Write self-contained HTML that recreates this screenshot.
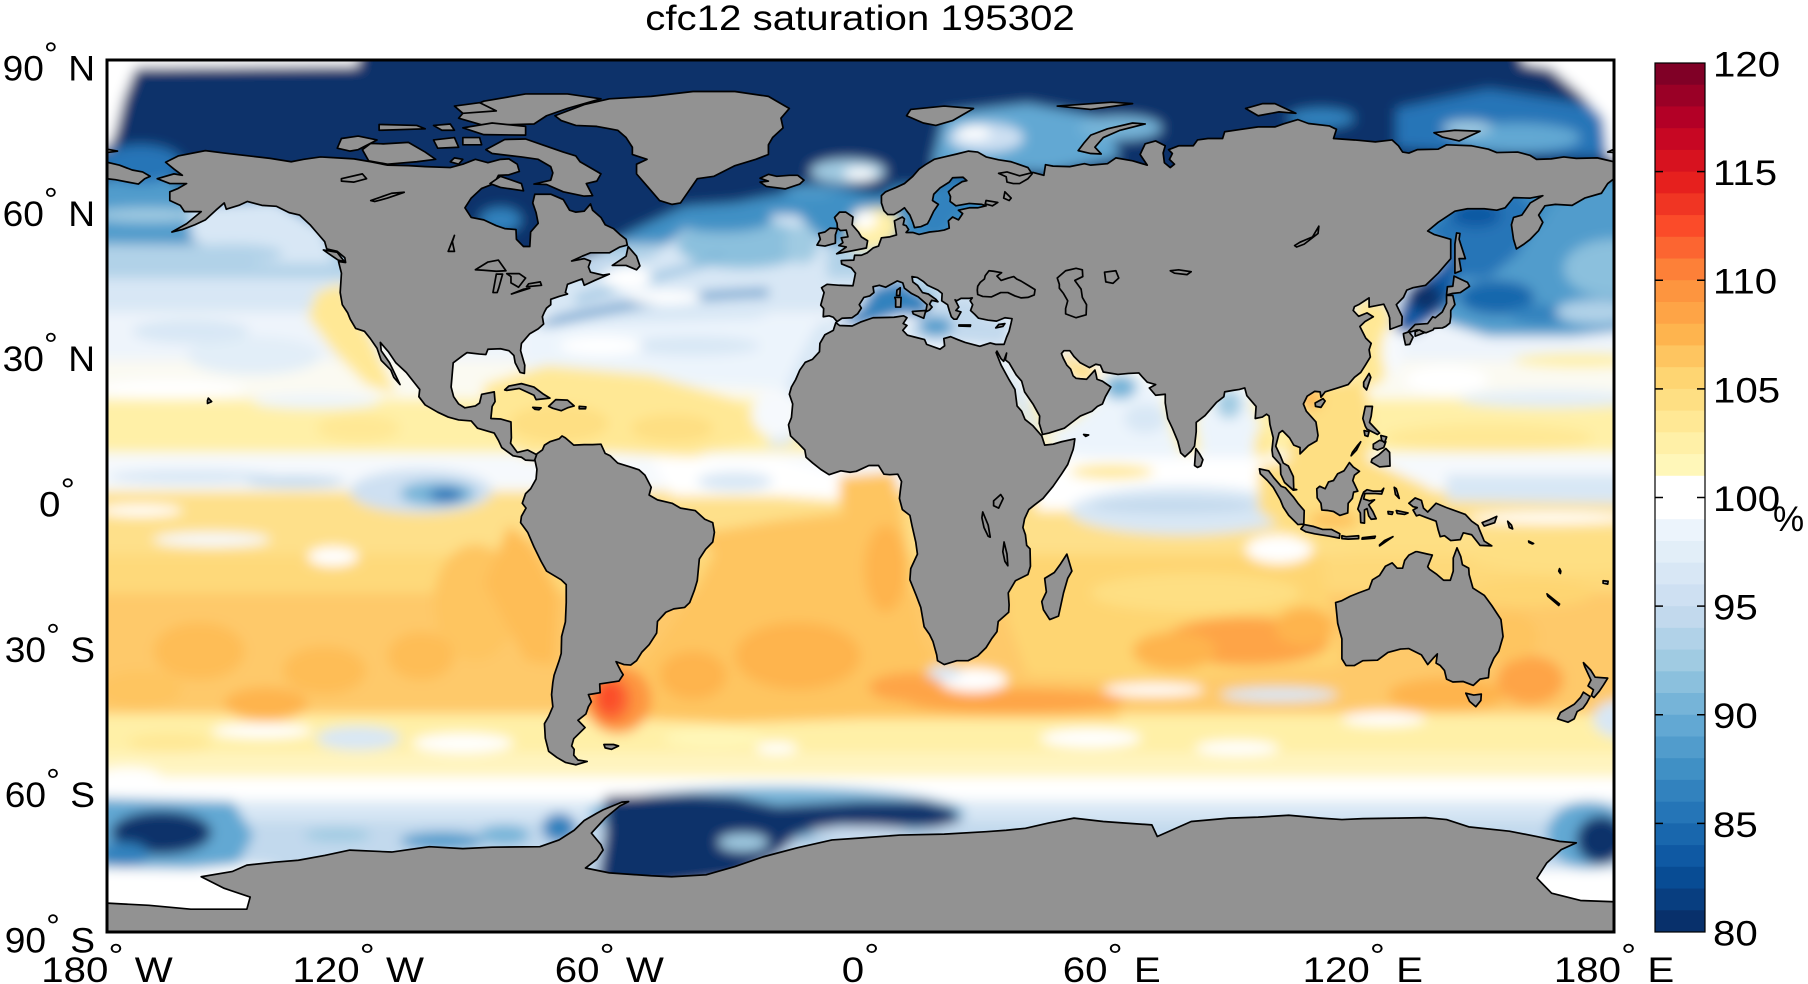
<!DOCTYPE html>
<html><head><meta charset="utf-8"><style>
html,body{margin:0;padding:0;background:#fff;}
svg{display:block;}
text{font-family:"Liberation Sans",Arial,sans-serif;fill:#000;}
</style></head><body>
<svg width="1808" height="984" viewBox="0 0 1808 984" xmlns="http://www.w3.org/2000/svg">
<defs>
<clipPath id="cp"><rect x="107" y="60" width="1507" height="872"/></clipPath>
<filter id="bl" filterUnits="userSpaceOnUse" x="0" y="0" width="1808" height="984"><feGaussianBlur stdDeviation="6"/></filter>
</defs>
<rect width="1808" height="984" fill="#fff"/>
<g clip-path="url(#cp)">
<g filter="url(#bl)">
<rect x="40" y="20" width="1640" height="960" fill="#ffe895"/>
<g transform="translate(860.5,496) scale(4.186,-4.844)">
<rect x="-200" y="64" width="400" height="40" fill="#08306b"/>
<rect x="-200" y="52" width="400" height="12" fill="#4090c5"/>
<rect x="-200" y="45" width="400" height="7" fill="#b1d2e8"/>
<rect x="-200" y="38" width="400" height="7" fill="#d8e7f5"/>
<rect x="-200" y="28" width="400" height="10" fill="#eef4fb"/>
<rect x="-200" y="20" width="400" height="8" fill="#fbfaf2"/>
<rect x="-200" y="9" width="400" height="11" fill="#fff0a7"/>
<rect x="-200" y="1" width="400" height="8" fill="#f6f9fd"/>
<rect x="-200" y="-12" width="400" height="13" fill="#fee08a"/>
<rect x="-200" y="-20" width="400" height="8" fill="#fed97a"/>
<rect x="-200" y="-45" width="400" height="25" fill="#fec96a"/>
<rect x="-200" y="-53" width="400" height="8" fill="#fff0a7"/>
<rect x="-200" y="-58" width="400" height="5" fill="#fff4bf"/>
<rect x="-200" y="-63" width="400" height="5" fill="#ffffff"/>
<rect x="-200" y="-67" width="400" height="4" fill="#d8e7f5"/>
<rect x="-200" y="-100" width="400" height="33" fill="#c2d9ed"/>
<polygon points="-200,64 -165,66 -158,58 -162,53 -200,51" fill="#519ccc"/>
<ellipse cx="-172" cy="68.5" rx="10" ry="4" fill="#2575b7"/>
<ellipse cx="-170" cy="58" rx="14" ry="1.5" fill="#a0cbe2"/>
<polygon points="160,52 200,52 200,64 175,66 165,60" fill="#519ccc"/>
<polygon points="-160,60 -140,61 -128,55 -126,48 -145,48 -160,53" fill="#d8e7f5"/>
<ellipse cx="-150" cy="50" rx="12" ry="2" fill="#b1d2e8"/>
<polygon points="140,52 165,57 200,55 200,36 170,33 150,33 139,36" fill="#519ccc"/>
<ellipse cx="152" cy="41" rx="9" ry="3.5" fill="#1967ad"/>
<ellipse cx="163" cy="37.5" rx="8" ry="2" fill="#3282be"/>
<ellipse cx="180" cy="47" rx="12" ry="6" fill="#8bc0dd"/>
<ellipse cx="176" cy="38" rx="10" ry="2.5" fill="#b1d2e8"/>
<polygon points="136,55 143,61 157,63 162,58 157,50 150,45 142,45" fill="#2575b7"/>
<ellipse cx="147" cy="58" rx="6" ry="2.5" fill="#0f59a3"/>
<polygon points="127,34 131,43 138,47 142,51 142,42 138,37 132,33.5" fill="#0f59a3"/>
<ellipse cx="135" cy="41" rx="4" ry="3" fill="#08306b"/>
<polygon points="118,41 126,40 127,35 129,31 124,23 117,22 118,30" fill="#ffe895"/>
<ellipse cx="127" cy="30" rx="2.5" ry="5" fill="#f6f9fd"/>
<polygon points="104,23 117,24 121,22 122,12 120,4 110,2 103,5 102,10 106,16" fill="#fedf83"/>
<ellipse cx="107.5" cy="20" rx="2.5" ry="2" fill="#feb44e"/>
<polygon points="-130,42 -124,44 -117,33 -113,25 -111,21 -118,23 -126,30 -132,37" fill="#ffe895"/>
<ellipse cx="-145" cy="29" rx="16" ry="4" fill="#e2eef8"/>
<ellipse cx="-160" cy="34" rx="14" ry="2.5" fill="#d8e7f5"/>
<ellipse cx="-165" cy="22" rx="18" ry="2" fill="#ffffff"/>
<ellipse cx="-130" cy="19.5" rx="15" ry="1.5" fill="#ecf4fc"/>
<ellipse cx="-120" cy="14" rx="10" ry="3" fill="#ffe895"/>
<ellipse cx="172" cy="28" rx="16" ry="1.5" fill="#fff0a7"/>
<ellipse cx="165" cy="20" rx="22" ry="1.8" fill="#e2eef8"/>
<ellipse cx="150" cy="12" rx="25" ry="3" fill="#ffe895"/>
<ellipse cx="140" cy="24" rx="10" ry="3" fill="#ffffff"/>
<ellipse cx="-105" cy="1" rx="17" ry="4.5" fill="#cee0f2"/>
<ellipse cx="-101" cy="0.5" rx="9" ry="2.5" fill="#76b4d8"/>
<ellipse cx="-99" cy="0.2" rx="4" ry="1.5" fill="#2575b7"/>
<ellipse cx="-160" cy="4" rx="20" ry="1.5" fill="#d8e7f5"/>
<ellipse cx="-135" cy="3" rx="12" ry="1.2" fill="#c2d9ed"/>
<polygon points="140,4.5 200,4.5 200,-2 140,-1" fill="#d8e7f5"/>
<ellipse cx="165" cy="-4.5" rx="20" ry="1.2" fill="#ffffff"/>
<ellipse cx="-126" cy="-12.5" rx="6" ry="2" fill="#ffffff"/>
<ellipse cx="-155" cy="-9" rx="14" ry="1.5" fill="#f6f9fd"/>
<ellipse cx="-172" cy="-3" rx="10" ry="1.2" fill="#ffffff"/>
<ellipse cx="-158" cy="-32" rx="11" ry="6" fill="#febd57"/>
<ellipse cx="-142" cy="-43" rx="10" ry="3.5" fill="#feb44e"/>
<ellipse cx="-128" cy="-36" rx="10" ry="5" fill="#febd57"/>
<ellipse cx="-92" cy="-22" rx="10" ry="12" fill="#fec560"/>
<ellipse cx="-105" cy="-33" rx="8" ry="5" fill="#febd57"/>
<ellipse cx="-172" cy="-40" rx="10" ry="4" fill="#fec560"/>
<polygon points="-84,-6 -78,-10 -72,-20 -73,-35 -80,-34 -90,-18" fill="#febd57"/>
<ellipse cx="-143" cy="-48.5" rx="12" ry="1.5" fill="#ffffff"/>
<ellipse cx="-120" cy="-50" rx="10" ry="2.5" fill="#d8e7f5"/>
<ellipse cx="-95" cy="-51" rx="12" ry="2" fill="#ffffff"/>
<ellipse cx="-165" cy="-51" rx="10" ry="2" fill="#ffe895"/>
<ellipse cx="-175" cy="-58" rx="8" ry="2" fill="#ffffff"/>
<polygon points="-200,-62 -150,-63 -145,-70 -150,-78 -200,-78" fill="#62a8d3"/>
<ellipse cx="-167" cy="-69.5" rx="12" ry="4.5" fill="#08306b"/>
<ellipse cx="-176" cy="-74" rx="6" ry="2.5" fill="#3282be"/>
<polygon points="-200,-76.5 -160,-77 -148,-76 -140,-76.5 -140,-95 -200,-95" fill="#ffffff"/>
<polygon points="158,-77 200,-77 200,-95 158,-95" fill="#ffffff"/>
<ellipse cx="174" cy="-70" rx="10" ry="7" fill="#62a8d3"/>
<ellipse cx="177" cy="-71" rx="6" ry="5" fill="#08306b"/>
<ellipse cx="-100" cy="-71.2" rx="10" ry="1.8" fill="#519ccc"/>
<ellipse cx="-85" cy="-70" rx="6" ry="2" fill="#76b4d8"/>
<ellipse cx="-125" cy="-70" rx="8" ry="1.5" fill="#a0cbe2"/>
<ellipse cx="-72" cy="-68.5" rx="4" ry="3" fill="#3282be"/>
<ellipse cx="-20" cy="-65.5" rx="45" ry="5.5" fill="#76b4d8"/>
<polygon points="-61,-62 -40,-61.5 -30,-62 -20,-64 -10,-63.5 0,-63 15,-63 22,-64.5 24,-67 18,-68.5 5,-68.5 -5,-68 -15,-70 -20,-74 -30,-79 -50,-81 -63,-81 -61,-70" fill="#08306b"/>
<ellipse cx="-28" cy="-71.5" rx="6" ry="1.8" fill="#a0cbe2"/>
<ellipse cx="0" cy="-69.5" rx="12" ry="1.3" fill="#cee0f2"/>
<polygon points="-100,44 -67,48 -60,52 -55,54.5 -42,59.8 -30,60.5 -18,62.5 -6,63.9 0,62.5 5,62 10,65 15,69 22,70 22,104 -100,104" fill="#08306b"/>
<ellipse cx="-3" cy="67" rx="9" ry="2.5" fill="#a0cbe2"/>
<ellipse cx="0" cy="66.5" rx="4" ry="1.2" fill="#ffffff"/>
<ellipse cx="-12" cy="63" rx="6" ry="1.2" fill="#519ccc"/>
<polygon points="17,68 20,79 40,81 58,78 62,70 45,67" fill="#62a8d3"/>
<ellipse cx="30" cy="74" rx="9" ry="3" fill="#cee0f2"/>
<ellipse cx="27" cy="75" rx="4" ry="1.5" fill="#ffffff"/>
<ellipse cx="62" cy="76" rx="10" ry="2.5" fill="#76b4d8"/>
<polygon points="128,72 145,71 180,70 180,80 150,84 128,80" fill="#2575b7"/>
<ellipse cx="157" cy="74" rx="15" ry="3" fill="#62a8d3"/>
<ellipse cx="145" cy="76" rx="6" ry="1.5" fill="#a0cbe2"/>
<ellipse cx="110" cy="78" rx="8" ry="2" fill="#3282be"/>
<ellipse cx="-86" cy="57" rx="5" ry="2.5" fill="#3282be"/>
<polygon points="-76,35 -70,41 -67,44 -60,46 -55,48 -50,49 -42,55 -30,58 -15,58 -8,52 -8,44 -15,40 -30,35 -50,33 -70,32" fill="#d8e7f5"/>
<ellipse cx="-28" cy="52" rx="16" ry="5" fill="#8bc0dd"/>
<ellipse cx="-33" cy="57" rx="12" ry="2.5" fill="#4090c5"/>
<path d="M-77,35 Q-55,41 -22,42" stroke="#4090c5" stroke-width="1.5" fill="none"/>
<path d="M-68,40.5 Q-50,45 -33,49" stroke="#76b4d8" stroke-width="1.2" fill="none"/>
<ellipse cx="-56" cy="45" rx="6" ry="2.5" fill="#ffffff"/>
<ellipse cx="-47" cy="41" rx="9" ry="1.5" fill="#ffffff"/>
<ellipse cx="-63" cy="48" rx="5" ry="2" fill="#c2d9ed"/>
<ellipse cx="-14" cy="52" rx="4" ry="4" fill="#a0cbe2"/>
<polygon points="-80,35 -12,37 -12,22 -80,24" fill="#ecf4fc"/>
<ellipse cx="-40" cy="31" rx="16" ry="2" fill="#d8e7f5"/>
<ellipse cx="-62" cy="31" rx="10" ry="2" fill="#ffffff"/>
<polygon points="-90,23 -75,27 -50,25 -30,20 -20,13 -40,8 -60,9 -80,8 -90,15" fill="#ffe895"/>
<ellipse cx="-72" cy="15" rx="12" ry="4" fill="#fedf83"/>
<ellipse cx="-45" cy="14" rx="10" ry="3" fill="#fedf83"/>
<polygon points="-22,10 -19,20 -15,28 -10,36 -5,36 -8,30 -14,21 -16,11" fill="#d8e7f5"/>
<ellipse cx="-20" cy="17" rx="6" ry="5" fill="#f6f9fd"/>
<polygon points="-50,8 -20,8 -8,5 0,3 -5,-1 -20,0 -45,0" fill="#ffffff"/>
<ellipse cx="-30" cy="3" rx="9" ry="2" fill="#d8e7f5"/>
<polygon points="-5,4 8,5 10,-3 12,-15 5,-12 -5,-2" fill="#fec560"/>
<polygon points="-40,-8 -20,-5 0,-3 10,-5 12,-18 15,-30 20,-37 30,-37 40,-39 60,-39 62,-46 20,-46 0,-46 -30,-47 -55,-46 -58,-40 -48,-30 -40,-20 -35,-12" fill="#fec560"/>
<ellipse cx="-15" cy="-33" rx="15" ry="7" fill="#feb44e"/>
<ellipse cx="-40" cy="-37" rx="8" ry="5" fill="#feb44e"/>
<ellipse cx="6" cy="-15" rx="5" ry="9" fill="#feb44e"/>
<ellipse cx="37" cy="-42.3" rx="26" ry="2.5" fill="#fea446"/>
<ellipse cx="12" cy="-39.5" rx="10" ry="3" fill="#fea446"/>
<ellipse cx="-58" cy="-42" rx="8" ry="7" fill="#fd953f"/>
<ellipse cx="-59.5" cy="-42" rx="4.5" ry="4.5" fill="#fc6531"/>
<ellipse cx="-60" cy="-41.5" rx="2.5" ry="3" fill="#fb4b29"/>
<ellipse cx="27" cy="-38" rx="8" ry="2.5" fill="#ffffff"/>
<ellipse cx="20" cy="-36.5" rx="4" ry="1.5" fill="#d8e7f5"/>
<ellipse cx="-35" cy="-50" rx="12" ry="2" fill="#fff7b9"/>
<ellipse cx="-20" cy="-52" rx="5" ry="1.2" fill="#ffffff"/>
<polygon points="-6,36 0,38.5 3,43 9,44.5 14,42 17,40 15,37 10,37.5 0,35" fill="#3282be"/>
<polygon points="15,37 20,40 26,41 30,37 36,36.5 35,31 25,31.5 15,32 10,33.5" fill="#c2d9ed"/>
<ellipse cx="18" cy="35" rx="4" ry="2" fill="#519ccc"/>
<polygon points="12.5,45.5 19.5,42 18.5,40 14,42.5" fill="#a0cbe2"/>
<polygon points="10,53.5 20,54 22,57 24,58.5 30,60 27,61 25,66 20,66 17,61 15,57" fill="#3282be"/>
<polygon points="-2,50.5 5,51 9,54 9,58 5,59.5 -1,59 -3,55" fill="#fff0a7"/>
<ellipse cx="1" cy="57" rx="3" ry="2" fill="#ffffff"/>
<polygon points="32,30 35,28 39,22 43.5,13 42,12 37,18 34,24" fill="#d8e7f5"/>
<polygon points="48,30.5 52,28 56.5,26.5 56.5,24 52,23.5 48.5,27" fill="#fedf83"/>
<polygon points="43,12 52,16 58,21 62,25.5 67,25 72,21 75,12 77,7 60,7 50,9" fill="#ecf4fc"/>
<ellipse cx="62" cy="22.5" rx="4" ry="2.5" fill="#76b4d8"/>
<ellipse cx="68" cy="16" rx="5" ry="3" fill="#d8e7f5"/>
<polygon points="80,16 82,18 86,22 92,23 94,17 97,12 96,6 82,6" fill="#ecf4fc"/>
<ellipse cx="88" cy="19" rx="3" ry="3" fill="#a0cbe2"/>
<ellipse cx="96" cy="10" rx="2" ry="4" fill="#ffe895"/>
<polygon points="42,8 100,8 102,-3 42,-3" fill="#ffffff"/>
<ellipse cx="77" cy="-3" rx="27" ry="5" fill="#d8e7f5"/>
<ellipse cx="75" cy="-2" rx="20" ry="1.5" fill="#c2d9ed"/>
<ellipse cx="60" cy="5" rx="10" ry="1.5" fill="#ffe895"/>
<polygon points="35,-12 110,-12 112,-22 115,-35 70,-38 40,-37 35,-25" fill="#fed572"/>
<ellipse cx="80" cy="-20" rx="25" ry="4" fill="#fedf83"/>
<ellipse cx="92" cy="-30" rx="20" ry="5" fill="#fea446"/>
<ellipse cx="75" cy="-32" rx="10" ry="4" fill="#feb44e"/>
<ellipse cx="106" cy="-27" rx="7" ry="4" fill="#feb44e"/>
<ellipse cx="100" cy="-11" rx="8" ry="3" fill="#ffffff"/>
<ellipse cx="70" cy="-40" rx="12" ry="1.3" fill="#ffffff"/>
<ellipse cx="100" cy="-41" rx="14" ry="1.5" fill="#d8e7f5"/>
<ellipse cx="125" cy="-46" rx="10" ry="1.5" fill="#ffffff"/>
<ellipse cx="55" cy="-50" rx="12" ry="2" fill="#ffffff"/>
<ellipse cx="90" cy="-52" rx="10" ry="1.5" fill="#ffffff"/>
<ellipse cx="140" cy="-41" rx="14" ry="3.5" fill="#feb44e"/>
<ellipse cx="160" cy="-38" rx="8" ry="5" fill="#fea446"/>
<ellipse cx="155" cy="-29" rx="7" ry="5" fill="#fec560"/>
<ellipse cx="182" cy="-46" rx="7" ry="4" fill="#d8e7f5"/>
<polygon points="95,6 105,8 120,8 135,2 142,-3 142,-12 120,-12 105,-9 95,-3" fill="#fedf83"/>
<ellipse cx="113" cy="-5" rx="6" ry="2" fill="#fec560"/>
<ellipse cx="170" cy="-12" rx="25" ry="4" fill="#fedf83"/>
<ellipse cx="160" cy="-20" rx="15" ry="3" fill="#fed572"/>
<polygon points="-200,100 -120,100 -120,88.8 -173,88.4 -174,86.5 -176,82 -178,75 -179.5,72 -200,72" fill="#ffffff"/>
<polygon points="158,100 200,100 200,63.5 178.5,70 177.5,78 172,83 165,88.2 158,89.3" fill="#ffffff"/>
</g>
</g>
<g transform="translate(860.5,496) scale(4.186,-4.844)" fill="#929292" stroke="#000" stroke-width="1.7" stroke-linejoin="round">
<g>
<polygon vector-effect="non-scaling-stroke" points="-166,68.9 -163,70.2 -156.5,71.3 -152,70.8 -145,70.1 -141,69.7 -136,69 -133,69.5 -129,70 -125,69.8 -121,69.6 -117,69 -113,68.3 -108,68.2 -104,68 -98,67.8 -95,68.5 -92,69.5 -89,68.8 -86,69.5 -84,69.6 -82,68.5 -81.5,67 -84,66.3 -86.5,66.2 -87.5,64.5 -90.5,63.5 -93,61.5 -94.5,59.5 -93,57.5 -90,57 -87,55.8 -85,55.2 -82.3,55 -82.2,53 -80.5,51.5 -79,51.5 -78.8,54.5 -77,56.3 -77.5,58.5 -78.3,60.5 -77.8,62.3 -74,62.3 -71,61.2 -69.5,59 -68,58.6 -66,58.8 -64.5,60.3 -64,59 -62,57.5 -61,56 -59,55.2 -57.5,54 -56,53 -55.7,51.8 -57.5,51.4 -60,50.2 -64.5,50.2 -66.5,49.5 -69,48.5 -66,49 -64.5,48.5 -65,47.3 -64.5,46.2 -61.5,45.6 -60,45.8 -63.5,44.5 -66,43.5 -66.5,44.8 -67.5,44.5 -70,43.7 -70.5,42 -70,41.7 -72,41.2 -74,40.6 -74,39.5 -75,38.8 -75.5,38 -76,37 -75.7,35.5 -77,34.5 -79,33.5 -81,31.5 -81.2,30 -80.2,27 -80.3,25.3 -81.3,25.5 -82.5,27.5 -82.8,29 -84,30 -86,30.4 -89,30.3 -89.5,29.2 -91,29.3 -94,29.6 -95,29 -97.3,27.5 -97.5,25.5 -97.8,22.5 -97.2,20.5 -96,19 -94.5,18.2 -92,18.6 -91,19.2 -90.5,21 -87.5,21.5 -87.3,19.5 -88,18.5 -88.3,16 -86,15.9 -83.5,15.3 -83.4,12 -83.6,10.9 -82,9 -79.5,9.5 -77.5,8.6 -77.3,8 -78,7.3 -80,7.4 -81,8 -83,8.3 -85.7,10 -86.5,11.5 -87.5,13 -91.5,14 -93,15.5 -96,15.7 -98.5,16.3 -101,17.3 -104,18.8 -105.5,20.5 -105.3,22 -106.5,23.3 -108.5,25.5 -111,27.5 -112.8,29.8 -114.7,31.7 -114.5,30 -112.5,27.5 -110,23 -111.5,24.5 -112.2,26 -114.5,28 -115.5,30.5 -117.1,32.5 -118.5,34 -120.6,34.6 -121.9,36.5 -122.5,37.8 -123.8,39.5 -124.3,42 -124,46 -124.7,48.4 -123,48.2 -123.2,49.2 -125,50.5 -127.5,51 -128,52.5 -130,54.5 -131.5,56 -134,58 -136.5,58.5 -139.5,59.8 -143,60 -146.5,60.8 -148.5,60 -151.5,59.2 -152,60.5 -154,59 -156.5,57 -159,56 -162,55 -164.5,54.5 -161,56.2 -157.5,58.7 -161.5,58.7 -162.5,60 -165,61 -165,62.8 -163,63.5 -161,64.5 -165,64.5 -168,65.5 -164,66.5 -162,66.2 -164,67.5"/>
<polygon vector-effect="non-scaling-stroke" points="-77.3,8.7 -76,9.5 -75.5,10.5 -74.2,11.2 -72,11.8 -71.3,12.4 -70.5,12 -68.5,10.5 -66,10.6 -64,10.6 -62,10.7 -61,8.8 -59.8,8.3 -58,6.8 -55,6 -52.9,5.4 -51.5,4.3 -50,1.8 -50.5,0.2 -48.5,-0.8 -45,-1.5 -43,-2.5 -39.5,-3 -37.2,-4.8 -35.3,-5.5 -34.9,-7.5 -35.3,-9.5 -37,-11 -38.5,-13 -39,-17.5 -39.7,-19.5 -40.8,-22 -42,-23 -44.6,-23.3 -46.5,-24 -48.5,-25.9 -48.7,-28.3 -50.5,-30.7 -52.2,-32.2 -53.5,-34 -54.9,-34.9 -56.5,-34.8 -58.4,-34.2 -57.2,-36.2 -56.7,-36.9 -57.7,-38.2 -62.3,-38.8 -62.2,-40.6 -65,-41 -64.3,-42.5 -65,-43.5 -65.6,-45 -67.5,-46.3 -65.8,-47.8 -68.5,-50.1 -69,-51.6 -68.4,-52.3 -68.5,-53.5 -67.5,-54.5 -65.3,-54.8 -66.5,-55.1 -68,-55.5 -70.5,-55 -72.5,-54 -74.5,-52.7 -75.3,-50 -75.5,-47 -74.5,-45.5 -73.5,-43.5 -73.8,-41 -73.5,-38.5 -73.2,-37 -72,-34 -71.5,-32.5 -71.4,-29 -70.5,-26 -70.3,-22 -70.3,-18.3 -71.5,-17.3 -75,-15.5 -76.3,-13.5 -78,-10.5 -79.5,-7.5 -81.2,-5.5 -81,-4.2 -79.9,-2.5 -80.8,-1.5 -80,0.5 -78.8,1.5 -77.5,3.5 -77.3,5.5 -77.8,7.5"/>
<polygon vector-effect="non-scaling-stroke" points="25.8,71.2 28,71 30,70 33,69.4 36,69 40,67.8 41,66.5 40,65.5 38,64.5 36.5,64.5 35,64.8 34.8,65.9 33,66.6 35,66.9 38,66.1 41.2,66.8 43.8,66.2 44.2,68.4 46,68.1 50,68 53.5,68.6 55,68.3 59,68.6 61,69.8 65,69.2 68.5,68.3 66.8,70.5 68,72.7 70.5,73.3 72.8,72.3 72.3,70.8 72.6,68.8 74,67.8 75,68.5 73.8,69.5 74.5,70.7 73.6,71.5 76,72.3 79.5,72.3 80.5,73.5 83,73.8 86.5,73.8 87,75.2 91,75.7 95,76.2 99,76.2 101,76.8 104.5,77.7 107,76.9 112,76.4 113.7,75.7 113,73.8 118,73.5 123,73.1 127,73.5 128.5,72.3 129.5,71 131,70.8 133,71.5 138,71.6 140,72.5 146,72.3 150,71.6 152,70.9 157,71 160,70.3 161.5,69.5 165,69.6 168,70 171,69.7 176,69.8 180,69 180,65.5 178.5,64.5 177,62.5 173,61.5 170,60 166,60.2 163.5,59.9 162,58 163,56.5 162,54.8 160,53 158.5,52 156.7,51 156,53 155.5,56 156,57.5 158,58 160,60.5 163,62 160,61.5 156,61.6 154,59.5 152,59 149,59.3 145,59.3 142,58.8 138,56.5 135.5,54.7 137,54 141,53 141,49 140,48 138,46 135,43.5 132,43 130.5,42.5 129.7,41 128,39.5 129.4,37 129.3,35.3 126.5,34.4 126.4,36.8 126,37.8 125,39.6 121.5,39 121.5,40.9 119,39.5 118,39.1 117.7,38.3 119,37.1 121,37.8 122.5,37 120.5,36 119.3,35 120.7,32.6 122,31.5 121.5,30.2 121.8,28.7 120.6,27 119.5,25.5 118,24.5 116.5,23 114,22.3 111,21.5 110,20.4 109.8,21.5 108.5,21.6 106.7,20.6 105.8,19 106.5,17.5 108.8,15.3 109.3,12.5 109,11.4 107,10.4 105,8.7 105,10 103.5,10.5 102.5,12 100.8,13.5 100,13 99.2,10.3 100.3,8.3 101,6.8 102.2,6.2 103.4,4 103.5,1.5 104.2,1.3 103.4,1.2 101.3,2.8 100.4,4.5 100.3,6.5 98.5,8.2 98.3,9.5 98.6,12 97.8,14.8 97.6,16.5 97,16.9 96,16.3 94.3,16 94.5,18.5 93.5,19.5 92.3,20.7 91.8,22.3 90.5,22 89,21.8 87,21.5 86.8,20.5 85,19.3 82.3,16.6 80.2,15.2 80.2,13.3 79.8,10.3 79,9.3 77.5,8.1 76.5,8.9 75.8,11.3 74.5,14 73.4,16 72.8,19.2 72.8,21 70.5,20.8 69,22.3 70.5,23 68.5,23.5 67.2,24.7 66.5,25.4 64,25.3 61.5,25.1 58,25.6 57.3,27 56.2,27.2 54.7,26.5 52.5,27.5 51,28.8 50,30 48.6,30 48,29.4 48.4,28.5 49.3,27 50.2,26.2 50.8,24.8 51.5,24.3 52.5,24.2 54,24.1 56,26 56.3,25 56.5,24.1 57.8,23.7 59.8,22.5 58.5,20.5 57.8,19 56.6,18.5 55.3,17.5 52.5,16.5 50.5,15.2 48.7,14 45,13 43.5,12.7 42.7,15 42.8,16.5 41.2,19 39.2,21.5 38.5,23.7 37.2,25 35.5,27.5 34.6,28.1 34.9,29.5 34.2,27.8 33.6,28.3 32.6,29.9 32.4,29.6 33.6,27 35.5,24 36.9,22 37.4,18.6 38.5,17.5 39.3,15.8 41.2,14.5 43.3,12.4 44,10.5 46,10.7 48,11.2 51.2,11.8 51,10.5 50.8,9.6 49.5,6.5 48,4.5 46,2 43.6,-0.5 41.5,-1.9 40.2,-2.8 39.2,-4.7 38.8,-6.5 39.4,-8 39.7,-10.2 40.5,-10.9 40.6,-14.5 40,-16.2 37,-17.5 35.3,-20 35.5,-22.5 35.4,-24 32.9,-25.9 32.6,-28 31.3,-29.5 30,-31.3 28,-33 25.7,-34 23,-34 20,-34.8 18.4,-34 18.2,-32.8 17.3,-30 16.5,-28.6 15.2,-27 14.4,-23 13.3,-20.5 11.8,-17.3 12,-15 13.6,-12 13.2,-9.5 12.3,-6.1 11.8,-4 10,-2.8 9.3,-0.5 9.5,1 9.8,3 8.9,4.5 7,4.4 5.6,4.5 4.3,6.3 2,6.3 -1,5.1 -2.5,4.9 -4.7,5.2 -7.5,4.4 -9.5,5.5 -11.4,6.8 -13,8 -13.3,9.5 -15,11 -16.7,12.4 -17.2,14.7 -16.5,16.2 -16.2,19 -17,21 -16.5,22.5 -15.5,24 -14.5,26 -13.2,27.6 -11.5,28.2 -9.8,29.8 -9.7,31.5 -8.5,33.3 -6.5,34.2 -5.9,35.8 -5,35.2 -2,35.1 0,35.9 3,36.8 8,36.9 10.3,37.2 11.1,36.8 10.2,35.6 11.1,35.2 10.1,34.2 11.2,33.2 13,32.8 15.3,32.3 15.8,31.3 19,30.3 20.1,31 19.9,32.5 21.5,32.9 23.2,32.3 25,31.7 28.5,30.9 31,31.6 32.3,31.3 34.3,31.3 34.9,32.8 35.5,34 36,35.8 36.2,36.6 34.5,36.8 32.5,36.1 30.5,36.3 28.2,36.7 27.3,37.5 26.3,38.3 26.8,39.5 26.2,40.3 26.7,40.9 26,40.8 24,40.8 23,40.3 22.6,40.5 23.5,39 22.8,38.3 24,38 23,36.5 22.3,36.5 21.7,37 21.2,38.3 20.8,39.5 19.4,40.3 19.5,41.8 18.5,42.5 16,43.5 15,44.3 13.6,45.1 12.3,45.3 12.5,44.2 13.6,43.5 14.8,42 16.2,41.7 18,40.6 18.5,40.1 17,40.4 16.5,39.6 17.1,39 16.5,38.4 15.6,38 15.9,39.5 15,40.2 13.8,41.1 12.2,41.8 10.5,42.9 10.1,44 8.8,44.4 7.5,43.8 6,43.1 4.5,43.5 3,43.2 3.2,42 2.2,41.3 0.8,41 -0.3,39.5 0.2,38.8 -0.7,37.6 -2,36.8 -4.4,36.7 -5.6,36 -6.5,36.9 -7.5,37.2 -8.9,37 -8.8,38.7 -9.5,39.4 -8.7,42 -9.3,43 -8,43.7 -5,43.5 -1.8,43.4 -1.2,46 -2.2,47.1 -4.5,47.9 -4.6,48.6 -1.6,48.7 -1.4,49.7 0.2,49.7 1.6,50.2 3,51.2 4.3,51.6 5,53.3 7,53.5 8.6,53.9 8.3,55.5 8.1,56.8 10,57.6 10.5,57.2 10.2,56 10.9,55.8 11.5,55 10.9,54.4 12.5,54.4 14,54 16.5,54.5 18.6,54.7 20,54.9 21.2,55.3 21,56.8 22,57.6 23.4,57 24.4,58.3 23.4,59 26,59.5 28,59.5 30,59.9 29,60.2 26,60.4 22.8,59.9 21.4,60.8 21.5,61.8 21,62.8 22.3,63.8 24.3,64.9 25.4,65.1 24.5,65.8 22,65.7 21.2,64.8 19,63.6 17.5,62.3 17.2,61 18.6,60.2 17.5,58.8 16.5,57 16,56.2 14.4,55.6 12.9,55.4 12.5,56.5 11.8,58 11,58.9 10.5,59.5 9.4,58.8 8,58.1 6.5,58.1 5.6,58.9 5,60.5 5,62 6,62.8 8.5,63.7 10.5,64.5 12.5,66 14,67.5 15.5,68.4 17.6,69.5 20,70 23,70.6"/>
<polygon vector-effect="non-scaling-stroke" points="-181,68.9 -180,68.9 -177,68.3 -174,67.3 -171.5,66.9 -169.7,66 -171,65.5 -172.5,64.4 -175,64.8 -178,65.3 -180,65.5 -181,65.5"/>
<polygon vector-effect="non-scaling-stroke" points="-73,78.5 -66,80.8 -60,82 -50,82.5 -40,83.5 -30,83.5 -22,82.5 -20,81.5 -17,80 -19,78 -18.5,76 -21,74 -22,72.5 -22,70.5 -25,69.5 -30,68.2 -35,66 -39,65.5 -41,63 -43,60.5 -45,60.2 -48,61 -50,63 -51.5,64.5 -53.5,66.5 -53.5,68.5 -51,69.5 -54.5,70.5 -54.5,72 -56,74 -58,75.5 -63,76.3 -68,76.5 -71.5,77.5"/>
<polygon vector-effect="non-scaling-stroke" points="-64,62 -66,61.9 -71,62.8 -75,64.3 -78,64.4 -74,65.2 -73.5,66.7 -74,68 -77,69.5 -81,70 -88,70.7 -89.5,71.5 -85,73.6 -80,73.7 -76,72.5 -71,71 -68,70.2 -67,69 -64,67.5 -62,66.5 -63,65 -65.5,64.5"/>
<polygon vector-effect="non-scaling-stroke" points="-119,71.5 -117,72.8 -114,72.7 -108,73 -104,71 -101.5,69.5 -106,69 -113,68.5 -117.5,69.2"/>
<polygon vector-effect="non-scaling-stroke" points="-125,71.8 -124,73.8 -120,74.3 -115.5,73.5 -120,71.5 -122,71.2"/>
<polygon vector-effect="non-scaling-stroke" points="-90,76.5 -78,76.8 -75,78.5 -70,80 -62,82 -70,83 -80,83 -90,81.5 -94,80 -96,78"/>
<polygon vector-effect="non-scaling-stroke" points="-80,74.5 -90,74.6 -95,76 -88,77 -80,76.3"/>
<polygon vector-effect="non-scaling-stroke" points="-115,75.5 -104,75.8 -106,76.5 -115,76.7"/>
<polygon vector-effect="non-scaling-stroke" points="-101,71.8 -96,72 -97,74 -102,73.5"/>
<polygon vector-effect="non-scaling-stroke" points="-95,72.5 -90.5,72.5 -91,74 -95,74"/>
<polygon vector-effect="non-scaling-stroke" points="-95,79 -87,79.5 -91,81.2 -97,80.5"/>
<polygon vector-effect="non-scaling-stroke" points="-100,75.5 -97,75.5 -98,76.8 -102,76.5"/>
<polygon vector-effect="non-scaling-stroke" points="-86,63.7 -80.5,63 -81,64.5 -86,66 -88.5,64.5"/>
<polygon vector-effect="non-scaling-stroke" points="-98,69 -96,68.5 -95,69.5 -97,69.8"/>
<polygon vector-effect="non-scaling-stroke" points="-22.5,63.9 -18,63.4 -14.5,64.4 -13.5,65.2 -15,66.2 -17,66.2 -20,66 -22,66.4 -24,65.6 -22,65 -24,64.8"/>
<polygon vector-effect="non-scaling-stroke" points="11,78.5 15,77 18,76.5 22,77.5 27,80 20,80.5 12,79.8"/>
<polygon vector-effect="non-scaling-stroke" points="52,71.3 55,70.7 57.5,70.6 56,72 58,74 62,75.5 68,76.8 65,77 59,75.8 55,74.5 53.5,73"/>
<polygon vector-effect="non-scaling-stroke" points="47,80.5 55,79.8 65,81 60,81.3"/>
<polygon vector-effect="non-scaling-stroke" points="95,78.5 100,79.3 104,79 99,81 96,81 92,80"/>
<polygon vector-effect="non-scaling-stroke" points="137,75 142,75.5 148,75.3 143,73.3 139,74.1"/>
<polygon vector-effect="non-scaling-stroke" points="178.5,71 180,70.9 180,71.6"/>
<polygon vector-effect="non-scaling-stroke" points="-180,71.6 -177.5,71.2 -180,70.9"/>
<polygon vector-effect="non-scaling-stroke" points="-5.7,50 1.4,51.2 1.7,52.7 0.2,53.5 -0.5,54.5 -1.5,55.5 -2,56 -1.8,57.6 -3.5,58.6 -5,58.6 -6.2,57.5 -5.6,56.3 -5.5,55.3 -4.8,54.8 -3.4,54.9 -3,53.5 -4.6,53.3 -4.2,52.3 -5.2,51.7 -3.4,51.4"/>
<polygon vector-effect="non-scaling-stroke" points="-6,52.2 -6,53.9 -5.5,55.2 -7.3,55.3 -8.5,54.5 -10,54.2 -9.6,53 -10.4,51.8 -8.5,51.6"/>
<polygon vector-effect="non-scaling-stroke" points="130.9,34 132.5,35.4 135.5,35.6 136.7,37 137.3,36.8 139,38 140,39.8 140,41.4 141.5,41.4 142,39.5 141,38.3 141,37 140.8,35.7 139.8,35 139,34.7 137,34.6 136.8,34.3 135.1,33.7 133,34.3 131.5,33.9"/>
<polygon vector-effect="non-scaling-stroke" points="129.7,33.5 131,33.9 132,32.8 131.2,31.3 130.2,31.2 129.8,32.8"/>
<polygon vector-effect="non-scaling-stroke" points="132.5,33 134.7,33.7 133.5,34.3 132.5,33.9"/>
<polygon vector-effect="non-scaling-stroke" points="140,41.5 141.3,41.8 143.3,42 145.5,43.3 145,44.1 141.8,45.4 141.5,43.3 140.2,43.2"/>
<polygon vector-effect="non-scaling-stroke" points="142,46 143.5,46.5 143,49 144.5,49 143,53 143.2,54.2 142.4,54.3 142,52 142,48"/>
<polygon vector-effect="non-scaling-stroke" points="120.2,22.6 120.9,21.9 121.9,24.5 121.5,25.3 120.2,23.5"/>
<polygon vector-effect="non-scaling-stroke" points="108.6,19.2 110.5,20.1 111,19.6 110,18.3 108.7,18.5"/>
<polygon vector-effect="non-scaling-stroke" points="120,16 120.6,18.5 122.3,18.5 122,16.5 121.6,15.2 124,13 123.5,12.7 121,13.8 120.6,14.4"/>
<polygon vector-effect="non-scaling-stroke" points="122,7 124,6 126.5,6.2 126.4,9 125.5,9.8 123.8,8.5 122.2,7.6"/>
<polygon vector-effect="non-scaling-stroke" points="122.5,10.7 124,11.5 125.5,11.2 125,10 123.5,9.5 122.5,9.8"/>
<polygon vector-effect="non-scaling-stroke" points="124.3,12.5 125.7,12.2 125.2,11 124.5,11.5"/>
<polygon vector-effect="non-scaling-stroke" points="117.2,8.3 118.5,9.5 119.5,11.2 118.8,10.5 117.5,9"/>
<polygon vector-effect="non-scaling-stroke" points="120.3,13.5 121.5,13.3 121.2,12.3 120.5,12.5"/>
<polygon vector-effect="non-scaling-stroke" points="109,1.5 109.7,2 111,1.5 111.8,2.9 113,3.2 114,4.6 115.5,5.2 116.8,6.9 117.7,6 119.2,5.1 118,4.3 117.6,3.2 118.8,1 117.8,0.8 117.5,-0.5 116.5,-1.5 116.4,-3.5 114.5,-4 113,-3.2 111.7,-3 110.2,-2.9 110,-1.5 109.1,-0.4"/>
<polygon vector-effect="non-scaling-stroke" points="95.3,5.6 97.5,5.2 98.8,3.7 100.5,2 101.5,1.7 103.5,-0.3 104.5,-1.5 106,-3 105.9,-5.8 104.5,-5.9 102.3,-4 101,-2.3 100.3,-0.8 98.6,1.8 97.2,3.2 95.5,4.6"/>
<polygon vector-effect="non-scaling-stroke" points="105.2,-6.8 106,-5.9 108.3,-6.3 110.4,-6.9 112.5,-6.9 114.5,-7.8 114.4,-8.7 112,-8.3 108.5,-7.8 106.4,-7.4"/>
<polygon vector-effect="non-scaling-stroke" points="115,-8.2 116,-8.4 119,-8.2 119,-8.8 116.5,-8.9 115,-8.8"/>
<polygon vector-effect="non-scaling-stroke" points="119.9,-8.6 123,-8.3 122.8,-8.7 119.8,-8.9"/>
<polygon vector-effect="non-scaling-stroke" points="124,-10.1 125.2,-9.2 127.2,-8.4 125,-9.7 124,-10.3"/>
<polygon vector-effect="non-scaling-stroke" points="119.5,-5.5 119.4,-3.5 118.8,-2.7 119.8,0 120.2,0.8 121,1.3 122.5,1 124.4,1 125,1.6 124.5,0.4 123,0.5 120.5,0.5 120.2,-0.6 121.6,-1 122.8,-0.8 121.4,-1.8 122.4,-3.2 123.2,-4.7 122,-4.8 121.4,-4.1 121,-2.6 120.4,-2.9 120.4,-5.6"/>
<polygon vector-effect="non-scaling-stroke" points="127.5,1.8 128,1.5 128.7,-0.5 127.8,0.3"/>
<polygon vector-effect="non-scaling-stroke" points="128,-3 130.8,-3.5 130,-3.8 128.2,-3.6"/>
<polygon vector-effect="non-scaling-stroke" points="126,-3.2 127.2,-3.3 127,-3.8 126.1,-3.7"/>
<polygon vector-effect="non-scaling-stroke" points="131,-1.5 132.5,-0.4 134,-0.9 134.5,-2.5 135.5,-3.3 137.5,-1.5 140,-2.4 144.5,-3.8 146,-5.2 147.5,-6.1 147.8,-6.8 149,-9.3 150.8,-10.3 148,-10.2 146,-8 144,-7.6 143.3,-9 141,-9.2 139.5,-8.2 138.5,-8.4 138,-7 137.5,-5.2 135,-4.4 133.5,-3.9 132.8,-4.1 132,-2.9 133,-2.4 132,-2.2"/>
<polygon vector-effect="non-scaling-stroke" points="148.5,-5.5 150,-5 152,-4.2 151.5,-5.5 149,-6.2"/>
<polygon vector-effect="non-scaling-stroke" points="154.6,-5.2 155.5,-6 155.8,-6.8 155,-6.5"/>
<polygon vector-effect="non-scaling-stroke" points="159.6,-9.3 160.8,-9.8 160.5,-9.9 159.7,-9.6"/>
<polygon vector-effect="non-scaling-stroke" points="164,-20.2 167,-22.3 166.8,-22.6 164.2,-20.7"/>
<polygon vector-effect="non-scaling-stroke" points="177.4,-17.5 178.6,-17.6 178.5,-18.2 177.4,-18"/>
<polygon vector-effect="non-scaling-stroke" points="167,-15 167.3,-15.5 167.2,-16 166.8,-15.5"/>
<polygon vector-effect="non-scaling-stroke" points="113.5,-22 114,-26.3 115,-29.5 115,-33.6 116,-35 118,-35 120,-34 123.5,-33.9 126,-32.3 129,-31.6 131,-31.5 134,-32.8 135.5,-34.8 136.8,-33.5 137.8,-32.6 137.5,-34.5 138.5,-35 139.5,-36 140,-37.8 141.5,-38.4 144,-38.3 146.4,-39.1 148,-37.8 150,-37.5 150.2,-35.7 151.3,-33.5 152.5,-32 153.5,-29 153,-25.5 150.8,-22.6 149,-20.5 146.3,-19 145.4,-16.2 145.3,-14.9 143.8,-14.2 143.4,-12.5 142.5,-10.7 141.6,-12.8 141.6,-15.5 140.9,-17.4 139.3,-17.4 137.7,-16.2 135.9,-15.1 135.5,-14.6 136.6,-12.2 135.5,-12 133,-11.5 132.6,-11.5 131,-12.2 130,-13.3 129.5,-14.9 128.2,-14.9 127,-13.8 125.4,-14.5 124,-16.4 122.3,-17.3 121.5,-19.2 119,-20 117,-20.7 115,-21.6"/>
<polygon vector-effect="non-scaling-stroke" points="144.6,-40.7 146.5,-41.1 148.3,-40.9 148.2,-42.2 147,-43.5 145.5,-42.4"/>
<polygon vector-effect="non-scaling-stroke" points="172.7,-34.4 174.5,-36 175.5,-37.4 178.5,-37.6 177.5,-39 176.5,-40.3 175.2,-41.6 174.6,-41.2 175.1,-40 173.8,-39.2 174.5,-38 173,-35.2"/>
<polygon vector-effect="non-scaling-stroke" points="172.7,-40.5 174.3,-41.4 173.5,-42.7 172.6,-43.8 171.2,-44.5 170.5,-46 169,-46.7 166.5,-46 167.2,-44.7 170.5,-43 172,-41.6"/>
<polygon vector-effect="non-scaling-stroke" points="49.3,-12 50.5,-15.5 49.5,-17 48.5,-20 47.3,-24.8 45.2,-25.5 43.7,-23.5 43.3,-21.8 44.4,-19.8 44,-17 46.3,-15.8 47.8,-14"/>
<polygon vector-effect="non-scaling-stroke" points="79.8,6.3 80.1,9.8 81,8.7 81.8,7.5 81.3,6.2 80.5,5.9"/>
<polygon vector-effect="non-scaling-stroke" points="53.3,12.7 54.5,12.6 53.8,12.3"/>
<polygon vector-effect="non-scaling-stroke" points="-85,21.9 -84,22.7 -81,23.2 -78,22.5 -75.7,21 -74.2,20.2 -77.5,19.9 -78,20.8 -81.5,22.2 -84.5,21.8"/>
<polygon vector-effect="non-scaling-stroke" points="-74.5,18.5 -72.8,19.9 -70,19.8 -68.4,18.6 -70,18.2 -71.5,17.6 -73.5,18.1"/>
<polygon vector-effect="non-scaling-stroke" points="-78.3,18.3 -76.3,18.2 -76.8,17.8 -77.8,17.9"/>
<polygon vector-effect="non-scaling-stroke" points="-67.2,18.5 -65.6,18.4 -65.7,18 -67.2,18"/>
<polygon vector-effect="non-scaling-stroke" points="-59.3,47.6 -56,49.5 -55.5,51.5 -53.5,49.5 -52.7,47.5 -53.5,46.7 -56,47.6"/>
<polygon vector-effect="non-scaling-stroke" points="-128.3,50.8 -125,50.3 -123.3,48.4 -124.8,48.7 -127,50"/>
<polygon vector-effect="non-scaling-stroke" points="-156,19.1 -155,19.5 -155.8,20.2 -156,19.7"/>
<polygon vector-effect="non-scaling-stroke" points="12.4,38.1 15.6,38.3 15.1,36.7 12.6,37.6"/>
<polygon vector-effect="non-scaling-stroke" points="8.2,41 9.7,41 9.6,39 8.4,39 8.4,40.5"/>
<polygon vector-effect="non-scaling-stroke" points="8.6,41.4 9.4,41.4 9.5,43 8.7,42.5"/>
<polygon vector-effect="non-scaling-stroke" points="23.5,35.3 26.3,35.3 26.2,35 23.5,35.1"/>
<polygon vector-effect="non-scaling-stroke" points="32.3,34.7 34,35 34.5,35.6 33,35.4"/>
<polygon vector-effect="non-scaling-stroke" points="-61.3,-51.3 -59,-51.3 -57.8,-51.6 -59.5,-52.3 -61,-52"/>
<polygon vector-effect="non-scaling-stroke" points="-181,-84 -170,-84.5 -160,-85.3 -146.6,-85.3 -145.8,-82.8 -152,-81 -157.5,-78.6 -150,-77.5 -146.6,-76.2 -140,-75.6 -134.3,-75.2 -128,-74.2 -122,-73.1 -112,-73.5 -103,-72.4 -95,-72.8 -88,-72.5 -76.6,-72.4 -72,-71 -68.4,-69 -66,-67 -63,-65.5 -61.5,-64.8 -57,-63.2 -55.4,-63.1 -57.5,-64 -61,-66.5 -64.3,-69.6 -62,-72 -61.5,-73.1 -63,-75 -65.7,-76.8 -60,-77.8 -50,-78.4 -45.1,-78.6 -36.9,-78.2 -30,-76.5 -23.3,-74.5 -15,-72.6 -6.8,-71 0,-70.6 9.4,-70 20,-69.8 30,-69.3 34.8,-69 39.4,-68.6 45,-67.5 51,-66.5 58,-67.2 63,-67.5 69.6,-67.9 70.9,-70.3 73,-69.5 79,-67.2 88,-66.5 95,-66.3 102.3,-65.9 110,-66.5 115,-66.8 120,-66.6 127.8,-66.5 135,-66.4 140,-66.8 145.3,-68.3 155,-69.2 161.6,-70.3 167,-71.3 171,-71.6 167.4,-73 163.9,-75.8 161.6,-78.9 165.1,-82 172,-83.5 181,-83.8 181,-92 -181,-92"/>
<polygon vector-effect="non-scaling-stroke" points="47,45 49,46.5 51.5,47 53,46.7 53.1,45.3 51.2,44.5 52.7,42.7 53,41 54,39.5 53.9,37.4 51.5,36.8 49,37.6 49,38.7 49.5,40.3 48.5,41.8 47.5,42.9 47.5,43.7"/>
<polygon vector-effect="non-scaling-stroke" points="28,41.6 29.2,41.2 31.3,41.1 33.5,42 35.2,42 36.9,41.3 38.4,40.9 40,41 41.5,41.5 41.7,42.6 40.2,43.4 38.3,44.4 37.3,44.8 36.6,45.3 35.3,45 33.6,44.5 32.6,45.4 33.7,46.1 31.8,46.4 30.7,46.5 29.8,45.5 29.6,44.8 28.6,44.1 28,43.3 27.9,42.5"/>
<polygon vector-effect="non-scaling-stroke" points="58.3,46.2 61,46.5 61.7,45 60.3,43.9 58.6,44.2"/>
<polygon vector-effect="non-scaling-stroke" points="103.7,51.7 105,52.4 108,53.5 109.5,55.7 109.3,54.2 106,52 104.2,51.4"/>
<polygon vector-effect="non-scaling-stroke" points="74,46.5 76,46.7 79,46.3 78,45.7 75,46"/>
<polygon vector-effect="non-scaling-stroke" points="-92,46.7 -89,48.3 -86.5,48.7 -84.7,46.5 -87,46.4 -90,46.6"/>
<polygon vector-effect="non-scaling-stroke" points="-87.8,42 -87,45.8 -85.5,45.8 -86.4,43 -86.8,42"/>
<polygon vector-effect="non-scaling-stroke" points="-84.5,45.9 -81.5,45.9 -80,45 -81.7,43.1 -82.5,43.5 -83.5,44 -83.5,45.3"/>
<polygon vector-effect="non-scaling-stroke" points="-83.4,41.7 -79,42.9 -80.5,42.7 -82.5,42"/>
<polygon vector-effect="non-scaling-stroke" points="-79.8,43.2 -76.2,43.5 -76.5,44.2 -79.3,43.8"/>
<polygon vector-effect="non-scaling-stroke" points="-124,65.5 -119,66.5 -118,65.5 -121,64.8 -124,65"/>
<polygon vector-effect="non-scaling-stroke" points="-117,61 -112,62.5 -109,62.7 -113,61.5 -116,60.8"/>
<polygon vector-effect="non-scaling-stroke" points="-98.5,50.5 -97,53.8 -97.5,52.5 -97,50.5"/>
<polygon vector-effect="non-scaling-stroke" points="31.8,-1 33.5,0.3 34.1,-0.5 33,-2.5 31.8,-2"/>
<polygon vector-effect="non-scaling-stroke" points="29.2,-3.3 30.5,-6 31,-8.5 30.5,-8.3 29.5,-6.5 29,-4.5"/>
<polygon vector-effect="non-scaling-stroke" points="34.3,-9.5 35,-12 35.2,-14.4 34.5,-13.5 34,-11.5"/>
<polygon vector-effect="non-scaling-stroke" points="30,61 32.8,60.6 31.5,59.9 29.8,60.3"/>
<polygon vector-effect="non-scaling-stroke" points="34.5,62.8 36,61.5 35.5,61 34.2,61.5"/>
</g>
</g>
</g>
<rect x="107" y="60" width="1507" height="872" fill="none" stroke="#000" stroke-width="3"/>
<g>
<rect x="1655" y="63" width="50" height="22.2" fill="#800026"/>
<rect x="1655" y="84.725" width="50" height="22.2" fill="#9a0026"/>
<rect x="1655" y="106.45" width="50" height="22.2" fill="#b30026"/>
<rect x="1655" y="128.175" width="50" height="22.2" fill="#c70723"/>
<rect x="1655" y="149.9" width="50" height="22.2" fill="#d7121f"/>
<rect x="1655" y="171.625" width="50" height="22.2" fill="#e6201e"/>
<rect x="1655" y="193.35" width="50" height="22.2" fill="#f03523"/>
<rect x="1655" y="215.075" width="50" height="22.2" fill="#fb4b29"/>
<rect x="1655" y="236.8" width="50" height="22.2" fill="#fc6531"/>
<rect x="1655" y="258.525" width="50" height="22.2" fill="#fd8038"/>
<rect x="1655" y="280.25" width="50" height="22.2" fill="#fd953f"/>
<rect x="1655" y="301.975" width="50" height="22.2" fill="#fea446"/>
<rect x="1655" y="323.7" width="50" height="22.2" fill="#feb44e"/>
<rect x="1655" y="345.425" width="50" height="22.2" fill="#fec560"/>
<rect x="1655" y="367.15" width="50" height="22.2" fill="#fed572"/>
<rect x="1655" y="388.875" width="50" height="22.2" fill="#fedf83"/>
<rect x="1655" y="410.6" width="50" height="22.2" fill="#ffe895"/>
<rect x="1655" y="432.325" width="50" height="22.2" fill="#fff0a7"/>
<rect x="1655" y="454.05" width="50" height="22.2" fill="#fff7b9"/>
<rect x="1655" y="475.775" width="50" height="22.2" fill="#ffffff"/>
<rect x="1655" y="497.5" width="50" height="22.2" fill="#ffffff"/>
<rect x="1655" y="519.225" width="50" height="22.2" fill="#ecf4fc"/>
<rect x="1655" y="540.95" width="50" height="22.2" fill="#e2eef8"/>
<rect x="1655" y="562.675" width="50" height="22.2" fill="#d8e7f5"/>
<rect x="1655" y="584.4" width="50" height="22.2" fill="#cee0f2"/>
<rect x="1655" y="606.125" width="50" height="22.2" fill="#c2d9ed"/>
<rect x="1655" y="627.85" width="50" height="22.2" fill="#b1d2e8"/>
<rect x="1655" y="649.575" width="50" height="22.2" fill="#a0cbe2"/>
<rect x="1655" y="671.3" width="50" height="22.2" fill="#8bc0dd"/>
<rect x="1655" y="693.025" width="50" height="22.2" fill="#76b4d8"/>
<rect x="1655" y="714.75" width="50" height="22.2" fill="#62a8d3"/>
<rect x="1655" y="736.475" width="50" height="22.2" fill="#519ccc"/>
<rect x="1655" y="758.2" width="50" height="22.2" fill="#4090c5"/>
<rect x="1655" y="779.925" width="50" height="22.2" fill="#3282be"/>
<rect x="1655" y="801.65" width="50" height="22.2" fill="#2575b7"/>
<rect x="1655" y="823.375" width="50" height="22.2" fill="#1967ad"/>
<rect x="1655" y="845.1" width="50" height="22.2" fill="#0f59a3"/>
<rect x="1655" y="866.825" width="50" height="22.2" fill="#084c94"/>
<rect x="1655" y="888.55" width="50" height="22.2" fill="#083e80"/>
<rect x="1655" y="910.275" width="50" height="21.725" fill="#08306b"/>
<rect x="1655" y="63" width="50" height="869" fill="none" stroke="#000" stroke-width="1.2"/>
<g stroke="#000" stroke-width="1.5">
<line x1="1655" y1="171.6" x2="1663" y2="171.6"/><line x1="1697" y1="171.6" x2="1705" y2="171.6"/>
<line x1="1655" y1="280.25" x2="1663" y2="280.25"/><line x1="1697" y1="280.25" x2="1705" y2="280.25"/>
<line x1="1655" y1="388.9" x2="1663" y2="388.9"/><line x1="1697" y1="388.9" x2="1705" y2="388.9"/>
<line x1="1655" y1="497.5" x2="1663" y2="497.5"/><line x1="1697" y1="497.5" x2="1705" y2="497.5"/>
<line x1="1655" y1="606.1" x2="1663" y2="606.1"/><line x1="1697" y1="606.1" x2="1705" y2="606.1"/>
<line x1="1655" y1="714.75" x2="1663" y2="714.75"/><line x1="1697" y1="714.75" x2="1705" y2="714.75"/>
<line x1="1655" y1="823.4" x2="1663" y2="823.4"/><line x1="1697" y1="823.4" x2="1705" y2="823.4"/>
</g>
</g>
<text transform="translate(860,30) scale(1.15,1)" text-anchor="middle" font-size="35">cfc12 saturation 195302</text>
<g font-size="35">
<text transform="translate(95,80.5) scale(1.06,1)" text-anchor="end">90<tspan font-size="33" dy="-15">°</tspan><tspan dy="15"> N</tspan></text>
<text transform="translate(95,225.9) scale(1.06,1)" text-anchor="end">60<tspan font-size="33" dy="-15">°</tspan><tspan dy="15"> N</tspan></text>
<text transform="translate(95,371.2) scale(1.06,1)" text-anchor="end">30<tspan font-size="33" dy="-15">°</tspan><tspan dy="15"> N</tspan></text>
<text transform="translate(75,516.5) scale(1.1,1)" text-anchor="end">0<tspan font-size="33" dy="-15">°</tspan></text>
<text transform="translate(95,661.8) scale(1.06,1)" text-anchor="end">30<tspan font-size="33" dy="-15">°</tspan><tspan dy="15"> S</tspan></text>
<text transform="translate(95,807.2) scale(1.06,1)" text-anchor="end">60<tspan font-size="33" dy="-15">°</tspan><tspan dy="15"> S</tspan></text>
<text transform="translate(95,952.5) scale(1.06,1)" text-anchor="end">90<tspan font-size="33" dy="-15">°</tspan><tspan dy="15"> S</tspan></text>
</g>
<g font-size="35">
<text transform="translate(107,982) scale(1.15,1)" text-anchor="middle">180<tspan font-size="33" dy="-15">°</tspan><tspan dy="15"> W</tspan></text>
<text transform="translate(358.2,982) scale(1.15,1)" text-anchor="middle">120<tspan font-size="33" dy="-15">°</tspan><tspan dy="15"> W</tspan></text>
<text transform="translate(609.3,982) scale(1.15,1)" text-anchor="middle">60<tspan font-size="33" dy="-15">°</tspan><tspan dy="15"> W</tspan></text>
<text transform="translate(860.5,982) scale(1.15,1)" text-anchor="middle">0<tspan font-size="33" dy="-15">°</tspan></text>
<text transform="translate(1111.7,982) scale(1.15,1)" text-anchor="middle">60<tspan font-size="33" dy="-15">°</tspan><tspan dy="15"> E</tspan></text>
<text transform="translate(1362.8,982) scale(1.15,1)" text-anchor="middle">120<tspan font-size="33" dy="-15">°</tspan><tspan dy="15"> E</tspan></text>
<text transform="translate(1614,982) scale(1.15,1)" text-anchor="middle">180<tspan font-size="33" dy="-15">°</tspan><tspan dy="15"> E</tspan></text>
</g>
<g font-size="35">
<text transform="translate(1713,76.5) scale(1.15,1)">120</text>
<text transform="translate(1713,185) scale(1.15,1)">115</text>
<text transform="translate(1713,293.7) scale(1.15,1)">110</text>
<text transform="translate(1713,402.4) scale(1.15,1)">105</text>
<text transform="translate(1713,511) scale(1.15,1)">100</text>
<text transform="translate(1713,619.6) scale(1.15,1)">95</text>
<text transform="translate(1713,728.2) scale(1.15,1)">90</text>
<text transform="translate(1713,836.9) scale(1.15,1)">85</text>
<text transform="translate(1713,945.5) scale(1.15,1)">80</text>
<text x="1773" y="531">%</text>
</g>
</svg>
</body></html>
